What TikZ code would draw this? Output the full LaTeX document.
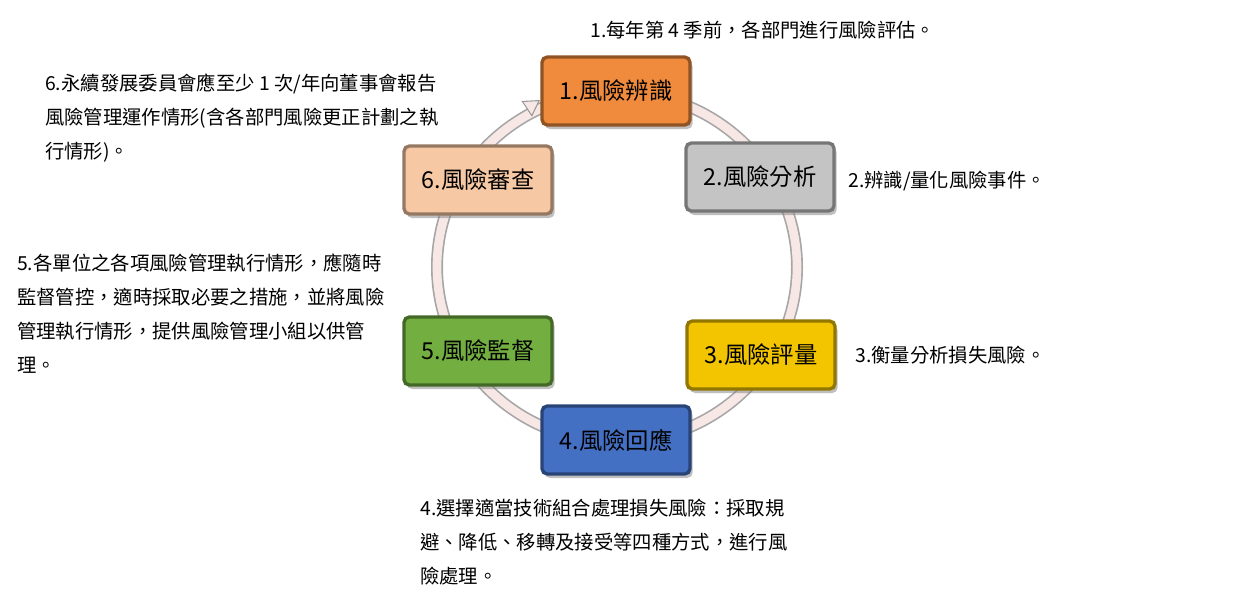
\documentclass[tikz,border=0pt]{standalone}
\usepackage{fontspec}
\setmainfont{Liberation Serif}
\newfontfamily\cjk{Noto Sans CJK TC}
\usetikzlibrary{arrows.meta,shadows}
\definecolor{c1}{HTML}{F08A3C}
\definecolor{c2}{HTML}{C4C4C4}
\definecolor{c3}{HTML}{F2C500}
\definecolor{c4}{HTML}{4470C4}
\definecolor{c5}{HTML}{72AE40}
\definecolor{c6}{HTML}{F6C8A4}
\definecolor{ring}{HTML}{F7E8E6}
\tikzset{
  stagebox/.style={draw=#1!60!black, line width=2.5pt, fill=#1, rounded corners=4pt,
     minimum width=148pt*0.75, minimum height=68pt*0.75,
     font=\cjk\fontsize{17.5}{20}\selectfont, text=black,
     drop shadow={shadow xshift=2pt, shadow yshift=-3pt, opacity=0.5}},
  lbl/.style={font=\cjk\fontsize{14.5}{25.5}\selectfont, align=left, inner sep=0pt},
}
\begin{document}
\begin{tikzpicture}[x=0.75pt,y=-0.75pt]
\useasboundingbox (0,0) rectangle (1255,610);
\draw[line width=9pt, draw=gray!70] (617,267) ellipse [x radius=180, y radius=175];
\draw[line width=6.5pt, draw=ring] (617,267) ellipse [x radius=180, y radius=175];
\coordinate (ah) at (540,100);
\draw[-{Triangle[length=12pt,width=14pt,fill=ring]}, draw=gray!80, line width=0.8pt] (528,108) -- (ah);
\node[stagebox=c1] (b1) at (616,91) {1.風險辨識};
\node[stagebox=c2] (b2) at (760,177) {2.風險分析};
\node[stagebox=c3] (b3) at (761,355) {3.風險評量};
\node[stagebox=c4] (b4) at (616,440) {4.風險回應};
\node[stagebox=c5] (b5) at (478,351) {5.風險監督};
\node[stagebox=c6] (b6) at (478,180) {6.風險審查};
\node[lbl, anchor=west] (t1) at (590,30) {1.每年第 4 季前，各部門進行風險評估。};
\node[lbl, anchor=north west] (t6) at (45,74) {6.永續發展委員會應至少 1 次/年向董事會報告\\風險管理運作情形(含各部門風險更正計劃之執\\行情形)。};
\node[lbl, anchor=west] (t2) at (848,181) {2.辨識/量化風險事件。};
\node[lbl, anchor=north west] (t5) at (17,254) {5.各單位之各項風險管理執行情形，應隨時\\監督管控，適時採取必要之措施，並將風險\\管理執行情形，提供風險管理小組以供管\\理。};
\node[lbl, anchor=west] (t3) at (855,355) {3.衡量分析損失風險。};
\node[lbl, anchor=north west] (t4) at (420,499) {4.選擇適當技術組合處理損失風險：採取規\\避、降低、移轉及接受等四種方式，進行風\\險處理。};
\end{tikzpicture}
\end{document}
